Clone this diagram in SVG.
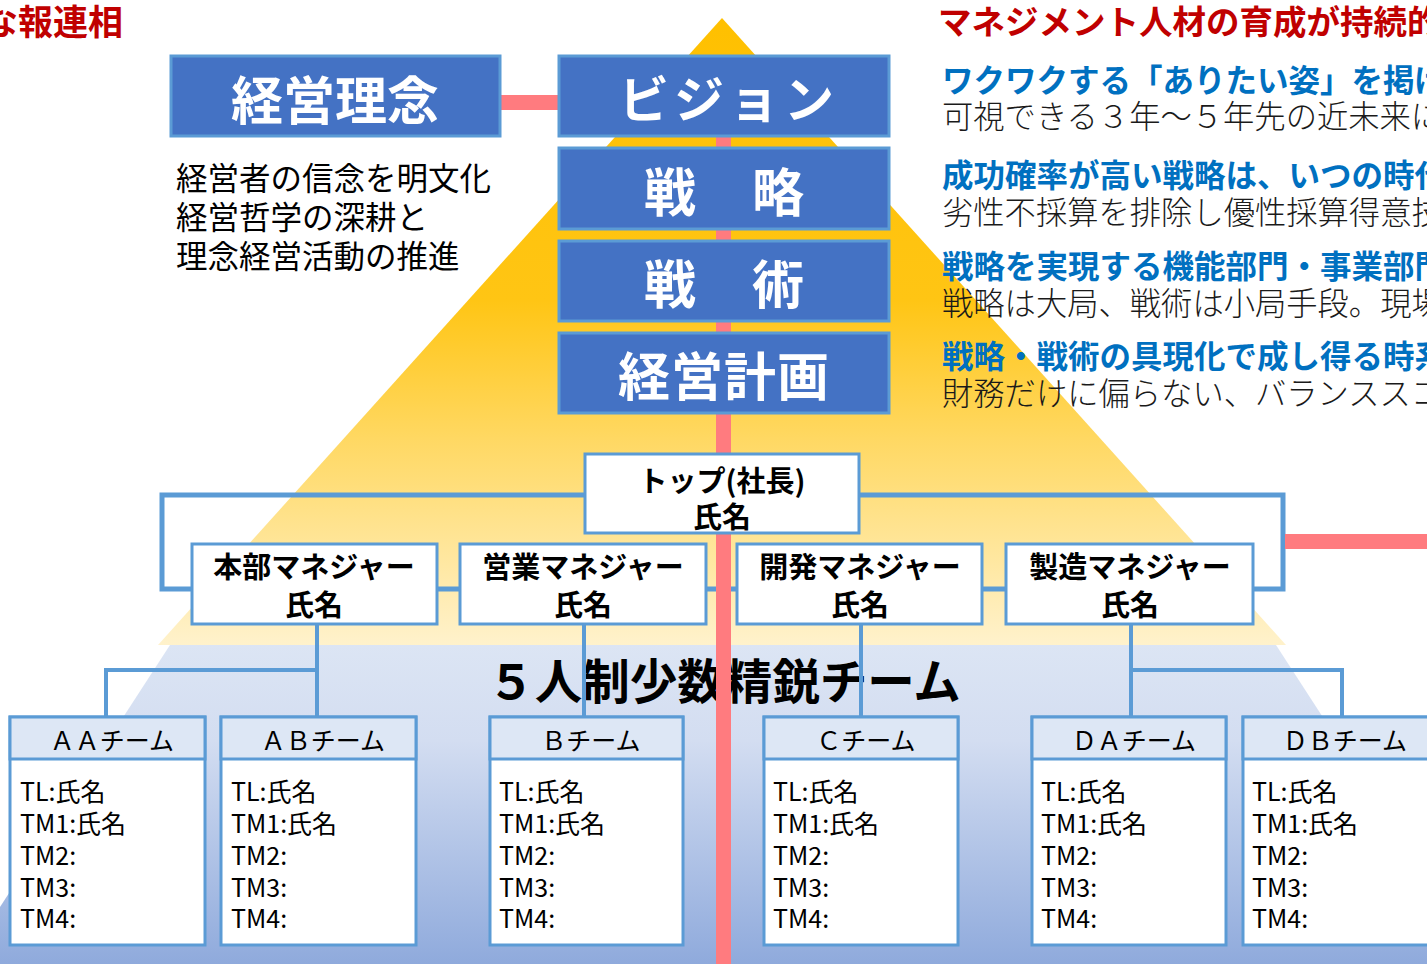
<svg xmlns="http://www.w3.org/2000/svg" width="1427" height="964" viewBox="0 0 1427 964">
<defs>
<linearGradient id="gY" gradientUnits="userSpaceOnUse" x1="0" y1="18" x2="0" y2="645">
<stop offset="0" stop-color="#FFC000"/>
<stop offset="0.45" stop-color="#FFC514"/>
<stop offset="0.67" stop-color="#FFD862"/>
<stop offset="1" stop-color="#FFF2CC"/>
</linearGradient>
<linearGradient id="gB" gradientUnits="userSpaceOnUse" x1="0" y1="645" x2="0" y2="964">
<stop offset="0" stop-color="#DCE5F4"/>
<stop offset="0.3" stop-color="#D3DDF1"/>
<stop offset="1" stop-color="#8FAADC"/>
</linearGradient>
<style>
text{font-family:'Noto Sans CJK JP','Noto Sans',sans-serif}
.box{fill:#4472C4;stroke:#5B9BD5;stroke-width:3}
.bt{fill:#fff;font-weight:700;font-size:52px;text-anchor:middle}
.ob{fill:#fff;stroke:#5B9BD5;stroke-width:3}
.ot{fill:#000;font-weight:700;font-size:29px;text-anchor:middle}
.tb{fill:#fff;stroke:#5B9BD5;stroke-width:3}
.th{fill:#DDE7F5;stroke:#5B9BD5;stroke-width:3}
.tt{font-size:25px;text-anchor:middle;fill:#000}
.tl{font-size:25px;fill:#000}
.con{fill:none;stroke:#5B9BD5;stroke-width:4}
.con5{fill:none;stroke:#5B9BD5;stroke-width:5}
.red{fill:#FF7B7F}
.hr{fill:#C00000;font-weight:700}
.hb{fill:#0070C0;font-weight:700;font-size:31.5px}
.bd{fill:#1a1a1a;font-size:31.3px;font-weight:300}
.lt{fill:#000;font-size:31.5px}
</style>
</defs>
<rect width="1427" height="964" fill="#fff"/>
<g id="background">
<polygon points="722,18 1286,645 158,645" fill="url(#gY)"/>
<polygon points="170,645 1276,645 1483,964 -37,964" fill="url(#gB)"/>
</g>
<g id="title-team">
<text x="724" y="699" font-size="47.5" font-weight="700" text-anchor="middle" fill="#000">５人制少数精鋭チーム</text>
</g>
<g id="connectors">
<polyline class="con5" points="585,495 162,495 162,589 192,589"/>
<polyline class="con5" points="859,495 1283,495 1283,589 1253,589"/>
<line class="con5" x1="437" y1="589" x2="460" y2="589"/>
<line class="con5" x1="706" y1="589" x2="737" y2="589"/>
<line class="con5" x1="982" y1="589" x2="1006" y2="589"/>
<line class="con" x1="317" y1="624" x2="317" y2="717"/>
<polyline class="con" points="317,670 106,670 106,717"/>
<line class="con" x1="584" y1="624" x2="584" y2="717"/>
<line class="con" x1="861" y1="624" x2="861" y2="717"/>
<line class="con" x1="1131" y1="624" x2="1131" y2="717"/>
<polyline class="con" points="1131,670 1342,670 1342,717"/>
</g>
<g id="red-lines">
<rect class="red" x="716" y="100" width="15" height="864"/>
<rect class="red" x="500" y="95" width="60" height="15"/>
<rect class="red" x="1285" y="534" width="142" height="15"/>
</g>
<g id="header-left">
<text class="hr" x="123" y="35" font-size="35" text-anchor="end">な報連相</text>
</g>
<g id="keiei-rinen">
<rect class="box" x="171" y="56" width="329" height="80"/>
<text class="bt" x="335" y="120">経営理念</text>
<text class="lt" x="176" y="190">経営者の信念を明文化</text>
<text class="lt" x="176" y="229">経営哲学の深耕と</text>
<text class="lt" x="176" y="268">理念経営活動の推進</text>
</g>
<g id="vision">
<rect class="box" x="559" y="56" width="330" height="80"/>
<text class="bt" x="729" y="118" letter-spacing="5" style="font-size:50px">ビジョン</text>
</g>
<g id="senryaku">
<rect class="box" x="559" y="148" width="330" height="81"/>
<text class="bt" x="725" y="212" letter-spacing="2">戦　略</text>
</g>
<g id="senjutsu">
<rect class="box" x="559" y="241" width="330" height="80"/>
<text class="bt" x="725" y="304" letter-spacing="2">戦　術</text>
</g>
<g id="keiei-keikaku">
<rect class="box" x="559" y="333" width="330" height="80"/>
<text class="bt" x="724" y="396" letter-spacing="1">経営計画</text>
</g>
<g id="right-text">
<text class="hr" x="938" y="34" font-size="33.5">マネジメント人材の育成が持続的</text>
<text class="hb" x="942" y="92">ワクワクする「ありたい姿」を掲げ</text>
<text class="bd" x="942" y="128">可視できる３年～５年先の近未来に</text>
<text class="hb" x="942" y="187">成功確率が高い戦略は、いつの時代</text>
<text class="bd" x="942" y="224">劣性不採算を排除し優性採算得意技</text>
<text class="hb" x="942" y="278">戦略を実現する機能部門・事業部門</text>
<text class="bd" x="942" y="315">戦略は大局、戦術は小局手段。現場</text>
<text class="hb" x="942" y="368">戦略・戦術の具現化で成し得る時系</text>
<text class="bd" x="942" y="405">財務だけに偏らない、バランススコ</text>
</g>
<g id="top">
<rect class="ob" x="585" y="454" width="274" height="79"/>
<text class="ot" x="722" y="492">トップ(社長)</text>
<text class="ot" x="722" y="528">氏名</text>
</g>
<g id="mgr-honbu">
<rect class="ob" x="192" y="544" width="245" height="80"/>
<text class="ot" x="314" y="578">本部マネジャー</text>
<text class="ot" x="314" y="616">氏名</text>
</g>
<g id="mgr-eigyo">
<rect class="ob" x="460" y="544" width="246" height="80"/>
<text class="ot" x="583" y="578">営業マネジャー</text>
<text class="ot" x="583" y="616">氏名</text>
</g>
<g id="mgr-kaihatsu">
<rect class="ob" x="737" y="544" width="245" height="80"/>
<text class="ot" x="860" y="578">開発マネジャー</text>
<text class="ot" x="860" y="616">氏名</text>
</g>
<g id="mgr-seizo">
<rect class="ob" x="1006" y="544" width="247" height="80"/>
<text class="ot" x="1130" y="578">製造マネジャー</text>
<text class="ot" x="1130" y="616">氏名</text>
</g>
<g id="team-aa">
<rect class="tb" x="10" y="717" width="195" height="228"/>
<rect class="th" x="10" y="717" width="195" height="42"/>
<text class="tt" x="112" y="750">ＡＡチーム</text>
<text class="tl" x="20" y="801">TL:氏名</text>
<text class="tl" x="20" y="833">TM1:氏名</text>
<text class="tl" x="20" y="865">TM2:</text>
<text class="tl" x="20" y="897">TM3:</text>
<text class="tl" x="20" y="928">TM4:</text>
</g>
<g id="team-ab">
<rect class="tb" x="221" y="717" width="195" height="228"/>
<rect class="th" x="221" y="717" width="195" height="42"/>
<text class="tt" x="323" y="750">ＡＢチーム</text>
<text class="tl" x="231" y="801">TL:氏名</text>
<text class="tl" x="231" y="833">TM1:氏名</text>
<text class="tl" x="231" y="865">TM2:</text>
<text class="tl" x="231" y="897">TM3:</text>
<text class="tl" x="231" y="928">TM4:</text>
</g>
<g id="team-b">
<rect class="tb" x="490" y="717" width="193" height="228"/>
<rect class="th" x="490" y="717" width="193" height="42"/>
<text class="tt" x="591" y="750">Ｂチーム</text>
<text class="tl" x="499" y="801">TL:氏名</text>
<text class="tl" x="499" y="833">TM1:氏名</text>
<text class="tl" x="499" y="865">TM2:</text>
<text class="tl" x="499" y="897">TM3:</text>
<text class="tl" x="499" y="928">TM4:</text>
</g>
<g id="team-c">
<rect class="tb" x="764" y="717" width="194" height="228"/>
<rect class="th" x="764" y="717" width="194" height="42"/>
<text class="tt" x="866" y="750">Ｃチーム</text>
<text class="tl" x="773" y="801">TL:氏名</text>
<text class="tl" x="773" y="833">TM1:氏名</text>
<text class="tl" x="773" y="865">TM2:</text>
<text class="tl" x="773" y="897">TM3:</text>
<text class="tl" x="773" y="928">TM4:</text>
</g>
<g id="team-da">
<rect class="tb" x="1032" y="717" width="194" height="228"/>
<rect class="th" x="1032" y="717" width="194" height="42"/>
<text class="tt" x="1134" y="750">ＤＡチーム</text>
<text class="tl" x="1041" y="801">TL:氏名</text>
<text class="tl" x="1041" y="833">TM1:氏名</text>
<text class="tl" x="1041" y="865">TM2:</text>
<text class="tl" x="1041" y="897">TM3:</text>
<text class="tl" x="1041" y="928">TM4:</text>
</g>
<g id="team-db">
<rect class="tb" x="1243" y="717" width="195" height="228"/>
<rect class="th" x="1243" y="717" width="195" height="42"/>
<text class="tt" x="1345" y="750">ＤＢチーム</text>
<text class="tl" x="1252" y="801">TL:氏名</text>
<text class="tl" x="1252" y="833">TM1:氏名</text>
<text class="tl" x="1252" y="865">TM2:</text>
<text class="tl" x="1252" y="897">TM3:</text>
<text class="tl" x="1252" y="928">TM4:</text>
</g>
</svg>
